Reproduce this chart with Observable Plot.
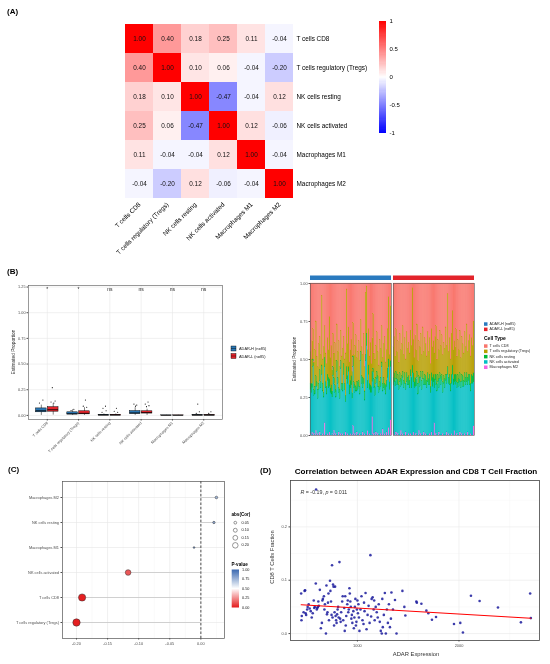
<!DOCTYPE html>
<html><head><meta charset="utf-8">
<script src="https://cdn.jsdelivr.net/npm/d3@7"></script>
<script src="https://cdn.jsdelivr.net/npm/@observablehq/plot@0.6"></script>
<style>
body{margin:0;background:#fff;}
#root{position:relative;width:550px;height:664px;overflow:hidden;background:#fff;}
#root svg{will-change:transform;-webkit-font-smoothing:antialiased;}
</style></head><body><div id="root"></div>
<script>
// ================= DATA =================
// Panel A: correlation matrix
const cellTypes = ["T cells CD8","T cells regulatory (Tregs)","NK cells resting","NK cells activated","Macrophages M1","Macrophages M2"];
const corrCD8    = [1.00,0.40,0.18,0.25,0.11,-0.04];
const corrTregs  = [0.40,1.00,0.10,0.06,-0.04,-0.20];
const corrNKrest = [0.18,0.10,1.00,-0.47,-0.04,0.12];
const corrNKact  = [0.25,0.06,-0.47,1.00,0.12,-0.06];
const corrM1     = [0.11,-0.04,-0.04,0.12,1.00,-0.04];
const corrM2     = [-0.04,-0.20,0.12,-0.06,-0.04,1.00];
const corrLegendTicks = [-1,-0.5,0,0.5,1];

// Panel B left: box plot summaries (ADAR-H, ADAR-L)
const groupNames = ["ADAR-H (n=85)","ADAR-L (n=85)"];
const boxQ1H  = [0.030,0.008,0.000,0.014,0.000,0.000];
const boxMedH = [0.045,0.016,0.002,0.024,0.000,0.001];
const boxQ3H  = [0.068,0.030,0.006,0.042,0.001,0.004];
const boxLoH  = [0.000,0.000,0.000,0.000,0.000,0.000];
const boxHiH  = [0.100,0.055,0.014,0.075,0.002,0.010];
const boxQ1L  = [0.036,0.010,0.000,0.018,0.000,0.000];
const boxMedL = [0.055,0.020,0.002,0.027,0.000,0.001];
const boxQ3L  = [0.080,0.040,0.006,0.040,0.001,0.004];
const boxLoL  = [0.003,0.000,0.000,0.000,0.000,0.000];
const boxHiL  = [0.115,0.075,0.014,0.060,0.002,0.010];
const outCat = [1,1,1,1,1,1,2,2,2,2,2,3,3,3,3,3,3,3,4,4,4,4,4,4,4,6,6,6,6,6];
const outGrp = [0,0,1,1,1,1,0,0,1,1,1,0,0,0,0,1,1,1,0,0,0,1,1,1,1,0,0,0,1,1];
const outDx  = [0.05,-0.06,-0.03,0.06,-0.07,0.02,0.04,-0.05,0.03,-0.04,0.07,0.05,-0.03,0.07,-0.06,0.02,-0.05,0.06,-0.04,0.05,0.01,0.03,-0.06,0.06,-0.02,0.0,0.05,-0.05,0.04,-0.03];
const outVal = [0.150,0.120,0.270,0.140,0.130,0.120,0.060,0.048,0.150,0.090,0.080,0.090,0.070,0.045,0.030,0.070,0.040,0.030,0.110,0.100,0.090,0.130,0.110,0.095,0.085,0.110,0.035,0.020,0.035,0.020];
const sigLabels = ["*","*","ns","ns","ns","ns"];

// Panel B right: per-sample composition (%), 85 samples per group
const stackTypes  = ["T cells CD8","T cells regulatory (Tregs)","NK cells resting","NK cells activated","Macrophages M2"];
const stackColors = ["#F8766D","#B79F00","#00BA38","#00BFC4","#F564E3"];
const cd8H = [45,50,38,30,52,44,25,48,55,40,35,47,8,50,42,28,46,
              53,36,44,22,49,41,57,33,46,39,51,27,45,38,55,31,48,
              43,35,50,46,4,40,29,52,44,37,58,26,47,41,34,49,45,
              38,51,24,42,47,33,55,6,2,44,30,48,39,53,36,20,46,
              50,41,32,45,54,37,43,28,49,40,35,52,44,30,9,47,15];
const tregsH = [21,16,28,20,18,24,36,17,15,26,22,18,46,16,30,21,19,
                15,24,18,41,20,26,14,22,16,28,19,24,17,31,15,20,18,
                23,18,16,28,51,21,26,15,20,24,14,22,18,26,34,16,20,
                26,17,21,19,15,30,16,41,31,20,24,18,28,15,22,36,17,
                18,21,26,16,14,28,19,24,17,22,31,15,20,26,41,18,36];
const nkRestH = [4,6,3,5,4,5,7,3,6,4,7,4,6,5,3,6,4,
                 5,4,7,5,3,6,4,6,4,5,5,7,4,3,6,5,4,
                 5,7,4,4,8,5,3,6,5,6,4,7,4,5,3,6,5,
                 4,5,6,5,7,3,6,4,8,5,6,4,5,4,7,3,6,
                 6,4,5,7,4,5,6,3,5,7,4,6,4,6,5,5,4];
const m2H = [1,0,2,0,1,0,3,0,1,0,2,0,0,1,0,8,0,
             0,1,0,2,0,0,1,0,3,0,1,0,0,2,0,1,0,
             1,0,0,2,0,1,0,0,1,0,0,6,0,1,0,2,0,
             0,1,0,0,2,0,1,0,0,3,0,1,0,0,12,0,1,
             0,2,0,1,0,0,1,0,4,0,1,0,2,0,5,0,10];
const cd8L = [42,35,48,30,45,38,52,33,44,40,28,47,36,50,32,43,39,
              46,31,41,3,37,49,34,44,27,51,38,42,33,47,29,45,36,
              40,48,32,45,36,53,30,42,38,46,35,28,50,37,44,31,41,
              34,47,39,43,29,41,7,45,36,50,33,18,44,38,42,30,48,
              37,44,31,49,35,40,46,32,42,27,45,38,34,48,36,41,25];
const tregsL = [20,24,16,28,18,22,15,26,19,21,30,17,23,16,27,19,22,
                18,26,21,51,22,16,28,19,31,15,23,20,25,17,29,18,24,
                21,16,27,18,24,15,29,20,22,17,25,32,16,23,19,28,20,
                26,18,22,20,31,19,48,17,24,16,27,36,19,22,18,30,17,
                23,19,28,16,25,21,18,27,20,32,17,22,26,18,24,20,34];
const nkRestL = [5,6,4,5,4,7,3,6,5,6,4,5,7,4,6,5,6,
                 5,4,7,5,6,4,6,5,4,7,5,6,4,6,5,4,7,
                 6,5,6,4,7,4,5,6,5,6,4,7,5,5,6,4,6,
                 4,7,5,6,4,6,5,4,7,5,6,6,4,5,7,5,4,
                 6,5,6,4,5,7,4,6,5,6,5,4,7,5,6,5,6];
const m2L = [1,0,0,2,0,1,0,0,3,0,1,0,0,2,0,0,1,
             0,1,0,0,2,0,0,1,0,0,3,0,1,0,0,2,0,
             1,0,0,0,1,0,2,0,0,8,0,1,0,0,2,0,0,
             0,1,0,0,0,2,0,1,0,0,1,0,0,3,0,0,1,
             0,0,2,0,1,0,0,1,0,0,2,0,0,1,0,0,6];

// Panel C: lollipop
const lolliCells = ["Macrophages M2","NK cells resting","Macrophages M1","NK cells activated","T cells CD8","T cells regulatory (Tregs)"];
const lolliCor = [0.025,0.021,-0.011,-0.117,-0.191,-0.200];
const lolliP   = [0.75,0.79,0.89,0.13,0.011,0.009];
const sizeLegendVals = [0.05,0.10,0.15,0.20];
const pLegendTicks = [0,0.25,0.5,0.75,1];

// Panel D: scatter
const adarExpr = [446,449,452,470,480,485,490,495,505,510,520,530,540,550,560,570,575,580,590,593,600,605,610,615,620,630,640,650,655,660,670,675,680,690,695,700,
  705,710,715,720,730,734,740,745,750,755,760,765,770,775,780,785,790,795,800,805,810,815,823,830,835,840,850,855,860,870,875,880,885,890,900,905,910,915,921,925,930,935,940,945,950,960,965,970,975,980,985,990,995,
  1000,1005,1010,1015,1020,1030,1040,1050,1060,1065,1070,1080,1090,1100,1110,1120,1128,1135,1140,1150,1160,1165,1170,1180,1190,1200,1210,1220,1230,1240,1245,1250,1260,1270,1280,1290,1300,1310,1320,1330,1335,1350,1370,1385,
  1443,1462,1472,1580,1585,1630,1679,1698,1734,1774,1951,2013,2039,2118,2203,2384,2610,2701,2708];
const cd8Fraction = [0.075,0.025,0.033,0.040,0.080,0.081,0.038,0.035,0.045,0.050,0.055,0.047,0.042,0.030,0.038,0.062,0.048,0.050,0.094,0.270,0.045,0.048,0.050,0.060,0.052,0.082,0.010,0.020,0.062,0.065,0.070,0.045,0.055,0.000,0.090,0.036,
  0.040,0.058,0.075,0.025,0.099,0.080,0.060,0.035,0.128,0.030,0.092,0.088,0.015,0.040,0.088,0.033,0.025,0.020,0.036,0.045,0.050,0.030,0.134,0.028,0.022,0.040,0.060,0.070,0.025,0.048,0.005,0.070,0.015,0.033,0.055,0.062,0.040,0.045,0.085,0.075,0.060,0.050,0.028,0.035,0.020,0.042,0.010,0.030,0.050,0.065,0.015,0.022,0.045,
  0.062,0.038,0.055,0.030,0.005,0.045,0.070,0.025,0.018,0.058,0.042,0.076,0.008,0.035,0.052,0.020,0.147,0.032,0.065,0.068,0.045,0.062,0.025,0.050,0.040,0.030,0.055,0.022,0.005,0.000,0.065,0.012,0.035,0.076,0.000,0.045,0.020,0.055,0.012,0.028,0.077,0.045,0.063,0.000,
  0.080,0.050,0.034,0.060,0.058,0.056,0.043,0.038,0.026,0.031,0.018,0.020,0.002,0.071,0.061,0.049,0.021,0.075,0.029];

// ================= HELPERS =================
const root = document.getElementById("root");
function place(el, left, top){ el.style.position="absolute"; el.style.left=left+"px"; el.style.top=top+"px"; root.appendChild(el); return el; }
const FONT = "Liberation Sans, Arial, Helvetica, sans-serif";
const baseStyle = {background:"transparent", fontFamily:FONT, overflow:"visible"};
const bwr = d3.piecewise(d3.interpolateRgb, ["#0000ff","#ffffff","#ff0000"]);
const pInterp = d3.piecewise(d3.interpolateRgb, ["#E41A1C","#FFFFFF","#3A68B0"]);

// ================= PANEL A =================
const corrRows = [corrCD8,corrTregs,corrNKrest,corrNKact,corrM1,corrM2];
const heatCells = [];
cellTypes.forEach((r,i)=>cellTypes.forEach((c,j)=>heatCells.push({row:r,col:c,v:corrRows[i][j]})));
place(Plot.plot({
  width:550, height:268, marginLeft:124, marginRight:257, marginTop:21, marginBottom:68,
  style:{...baseStyle, fontSize:"6.4px", color:"#000"},
  x:{domain:cellTypes, padding:0, label:null, tickSize:0, tickRotate:-45, tickPadding:3},
  y:{domain:cellTypes, padding:0, label:null, tickSize:0, axis:"right", tickPadding:3},
  color:{type:"linear", domain:[-1,1], interpolate:bwr},
  marks:[
    Plot.cell(heatCells,{x:"col",y:"row",fill:"v",inset:0}),
    Plot.text(heatCells,{x:"col",y:"row",text:d=>d.v.toFixed(2),fill:"#111",fontSize:6.4})
  ]
}),0,0);
const rampSteps = d3.range(-1,1,0.02);
place(Plot.plot({
  width:32, height:140, marginLeft:0, marginRight:25, marginTop:21, marginBottom:7,
  style:{...baseStyle, fontSize:"6px", color:"#000"},
  x:{axis:null, domain:[0,1]},
  y:{domain:[-1,1], axis:"right", ticks:corrLegendTicks, tickFormat:d=>String(d), tickSize:0, tickPadding:3, label:null},
  color:{type:"linear", domain:[-1,1], interpolate:bwr},
  marks:[Plot.rect(rampSteps,{x1:0,x2:1,y1:d=>d,y2:d=>d+0.021,fill:d=>d+0.01,shapeRendering:"crispEdges"})]
}),379,0);

// ================= PANEL B left =================
const boxRows = [];
cellTypes.forEach((c,i)=>{
  boxRows.push({cat:i+1,g:0,q1:boxQ1H[i],med:boxMedH[i],q3:boxQ3H[i],lo:boxLoH[i],hi:boxHiH[i]});
  boxRows.push({cat:i+1,g:1,q1:boxQ1L[i],med:boxMedL[i],q3:boxQ3L[i],lo:boxLoL[i],hi:boxHiL[i]});
});
const outRows = outCat.map((c,i)=>({cat:c,g:outGrp[i],dx:outDx[i],v:outVal[i]}));
const OFF=0.19, HW=0.17;
const cx = d=>d.cat+(d.g?OFF:-OFF);
place(Plot.plot({
  width:280, height:185, marginLeft:28, marginRight:58, marginTop:10, marginBottom:41,
  style:{...baseStyle, fontSize:"3.8px", color:"#4d4d4d"},
  x:{domain:[0.4,6.6], ticks:[1,2,3,4,5,6], tickFormat:i=>cellTypes[i-1], tickRotate:-45, tickSize:1.5, tickPadding:1.5, label:null},
  y:{domain:[-0.04,1.265], ticks:[0,0.25,0.5,0.75,1,1.25], tickFormat:d=>d.toFixed(2), tickSize:1.5, tickPadding:1.5, label:null},
  color:{type:"identity"},
  marks:[
    Plot.gridY({ticks:[0,0.25,0.5,0.75,1,1.25], stroke:"#e6e6e6", strokeOpacity:1, strokeWidth:0.6}),
    Plot.gridX({ticks:[1,2,3,4,5,6], stroke:"#e6e6e6", strokeOpacity:1, strokeWidth:0.6}),
    Plot.ruleX(boxRows,{x:cx, y1:"lo", y2:"hi", stroke:"#000", strokeWidth:0.5}),
    Plot.rect(boxRows,{x1:d=>cx(d)-HW, x2:d=>cx(d)+HW, y1:"q1", y2:"q3", fill:d=>d.g?"#E3242B":"#2A77B4", stroke:"#000", strokeWidth:0.45}),
    Plot.ruleY(boxRows,{y:"med", x1:d=>cx(d)-HW, x2:d=>cx(d)+HW, stroke:"#000", strokeWidth:0.8}),
    Plot.dot(outRows,{x:d=>cx(d)+d.dx, y:"v", r:0.55, fill:"#000", stroke:null}),
    Plot.text(sigLabels,{x:(d,i)=>i+1, y:1.225, text:d=>d, fill:"#222", fontSize:5}),
    Plot.frame({stroke:"#555", strokeWidth:0.6})
  ]
}),0,275);

// ================= PANEL B right =================
const barRows = [];
function addGroup(g, cd8, tregs, nkr, m2){
  for (let i=0;i<cd8.length;i++){
    const act = 100-cd8[i]-tregs[i]-nkr[i]-m2[i];
    barRows.push({grp:g,idx:i,type:"Macrophages M2",val:m2[i]});
    barRows.push({grp:g,idx:i,type:"NK cells activated",val:act});
    barRows.push({grp:g,idx:i,type:"NK cells resting",val:nkr[i]});
    barRows.push({grp:g,idx:i,type:"T cells regulatory (Tregs)",val:tregs[i]});
    barRows.push({grp:g,idx:i,type:"T cells CD8",val:cd8[i]});
  }
}
addGroup("H",cd8H,tregsH,nkRestH,m2H);
addGroup("L",cd8L,tregsL,nkRestL,m2L);
place(Plot.plot({
  width:270, height:175, marginLeft:29, marginRight:75, marginTop:13, marginBottom:10,
  style:{...baseStyle, fontSize:"3.8px", color:"#4d4d4d"},
  fx:{domain:["H","L"], padding:0.02, axis:null, label:null},
  x:{domain:d3.range(85), axis:null, padding:0},
  y:{domain:[0,1], ticks:[0,0.25,0.5,0.75,1], tickFormat:d=>d.toFixed(2), tickSize:1.5, tickPadding:1.5, label:null},
  color:{domain:stackTypes, range:stackColors},
  marks:[
    Plot.barY(barRows,{fx:"grp", x:"idx", y:"val", fill:"type", stroke:"type", strokeWidth:0.2, offset:"normalize", inset:0}),
    Plot.frame({stroke:"#555", strokeWidth:0.6}),
    Plot.rect(["H"],{fx:d=>d, y1:1, y2:1, insetTop:-7.5, insetBottom:3, fill:"#2A7ABF"}),
    Plot.rect(["L"],{fx:d=>d, y1:1, y2:1, insetTop:-7.5, insetBottom:3, fill:"#E3242B"})
  ]
}),280,270);

// ================= PANEL C =================
const lolliRows = lolliCells.map((c,i)=>({cell:c, cor:lolliCor[i], abs:Math.abs(lolliCor[i]), p:lolliP[i]}));
const rScaleC = {type:"sqrt", domain:[0,0.2], range:[0,3.7]};
place(Plot.plot({
  width:280, height:194, marginLeft:62, marginRight:56, marginTop:11, marginBottom:26,
  style:{...baseStyle, fontSize:"3.9px", color:"#4d4d4d"},
  x:{domain:[-0.2225,0.038], ticks:[-0.2,-0.15,-0.1,-0.05,0], tickFormat:d=>d.toFixed(2), tickSize:1.5, tickPadding:2, label:null},
  y:{type:"point", domain:lolliCells, padding:0.6, tickSize:1.5, tickPadding:2, label:null},
  r:rScaleC,
  color:{type:"linear", domain:[0,1], interpolate:pInterp},
  marks:[
    Plot.gridX({ticks:[-0.175,-0.125,-0.075,-0.025,0.025], stroke:"#f3f3f3", strokeOpacity:1, strokeWidth:0.5}),
    Plot.gridX({ticks:[-0.2,-0.15,-0.1,-0.05,0], stroke:"#e6e6e6", strokeOpacity:1, strokeWidth:0.6}),
    Plot.gridY(lolliCells,{y:d=>d, stroke:"#e6e6e6", strokeOpacity:1, strokeWidth:0.6}),
    Plot.ruleY(lolliRows,{y:"cell", x1:0, x2:"cor", stroke:"#c8c8c8", strokeWidth:0.8}),
    Plot.ruleX([0],{stroke:"#222", strokeDasharray:"2.5,1.8", strokeWidth:0.8}),
    Plot.dot(lolliRows,{x:"cor", y:"cell", r:"abs", fill:"p", stroke:"#333", strokeWidth:0.5}),
    Plot.frame({stroke:"#555", strokeWidth:0.7})
  ]
}),0,470);

// ================= PANEL D =================
const dRows = adarExpr.map((x,i)=>({x, y:cd8Fraction[i]}));
place(Plot.plot({
  width:270, height:194, marginLeft:10, marginRight:11, marginTop:10, marginBottom:24,
  style:{...baseStyle, fontSize:"3.9px", color:"#4d4d4d"},
  x:{domain:[341,2793], ticks:[1000,2000], tickFormat:d=>String(d), tickSize:1.5, tickPadding:2, label:null},
  y:{domain:[-0.013,0.287], ticks:[0,0.1,0.2], tickFormat:d=>d.toFixed(1), tickSize:1.5, tickPadding:2, label:null},
  marks:[
    Plot.gridX({ticks:[500,1500,2500], stroke:"#f4f4f4", strokeOpacity:1, strokeWidth:0.5}),
    Plot.gridY({ticks:[0.05,0.15,0.25], stroke:"#f4f4f4", strokeOpacity:1, strokeWidth:0.5}),
    Plot.gridX({ticks:[1000,2000], stroke:"#e8e8e8", strokeOpacity:1, strokeWidth:0.6}),
    Plot.gridY({ticks:[0,0.1,0.2], stroke:"#e8e8e8", strokeOpacity:1, strokeWidth:0.6}),
    Plot.dot(dRows,{x:"x", y:"y", r:1.3, fill:"#1A1A9C", fillOpacity:0.85, stroke:null}),
    Plot.linearRegressionY(dRows,{x:"x", y:"y", stroke:"#FF0000", strokeWidth:1.1, ci:0}),
    Plot.frame({stroke:"#444", strokeWidth:0.8})
  ]
}),280,470);

// ================= OVERLAY: titles, axis titles, legends =================
const ov = d3.create("svg").attr("width",550).attr("height",664)
  .style("position","absolute").style("left","0px").style("top","0px")
  .style("font-family",FONT).style("pointer-events","none");
function txt(x,y,s,size,opt={}){
  const t = ov.append("text").attr("x",x).attr("y",y).attr("font-size",size)
    .attr("fill",opt.fill||"#000").attr("text-anchor",opt.anchor||"start")
    .attr("font-weight",opt.bold?"bold":"normal");
  if (opt.rotate) t.attr("transform",`rotate(${opt.rotate},${x},${y})`);
  if (opt.baseline) t.attr("dominant-baseline",opt.baseline);
  t.text(s); return t;
}
// panel labels
txt(7,14,"(A)",8,{bold:true});
txt(7,274,"(B)",8,{bold:true});
txt(8,472,"(C)",8,{bold:true});
txt(260,473,"(D)",8,{bold:true});
// B left
txt(14.5,352,"Estimated Proportion",4.8,{anchor:"middle",rotate:-90,fill:"#333"});
groupNames.forEach((g,i)=>{
  ov.append("rect").attr("x",231).attr("y",346+i*7.5).attr("width",5).attr("height",5)
    .attr("fill",i?"#E3242B":"#2A77B4").attr("stroke","#000").attr("stroke-width",0.4);
  ov.append("line").attr("x1",231).attr("x2",236).attr("y1",348.5+i*7.5).attr("y2",348.5+i*7.5).attr("stroke","#000").attr("stroke-width",0.4);
  txt(239,348.5+i*7.5,g,3.9,{baseline:"central",fill:"#222"});
});
// B right
txt(295.5,359,"Estimated Proportion",4.8,{anchor:"middle",rotate:-90,fill:"#333"});
groupNames.forEach((g,i)=>{
  ov.append("rect").attr("x",484).attr("y",322.3+i*5.3).attr("width",3.5).attr("height",3.5).attr("fill",i?"#E3242B":"#2A7ABF");
  txt(489.5,324+i*5.3,g,3.7,{baseline:"central",fill:"#222"});
});
txt(484,338.3,"Cell Type",5,{bold:true,baseline:"central"});
stackTypes.forEach((c,i)=>{
  ov.append("rect").attr("x",484).attr("y",344.3+i*5.3).attr("width",3.5).attr("height",3.5).attr("fill",stackColors[i]);
  txt(489.5,346+i*5.3,c,3.7,{baseline:"central",fill:"#222"});
});
// C legends
const rC = d3.scaleSqrt().domain(rScaleC.domain).range(rScaleC.range);
txt(231.5,514.5,"abs(Cor)",4.6,{bold:true,baseline:"central"});
sizeLegendVals.forEach((v,i)=>{
  const cy = 522.7+i*7.55;
  ov.append("circle").attr("cx",235.3).attr("cy",cy).attr("r",rC(v)*0.75).attr("fill","#fff").attr("stroke","#333").attr("stroke-width",0.5);
  txt(241.5,cy,v.toFixed(2),3.8,{baseline:"central",fill:"#222"});
});
txt(231.5,564.5,"P-value",4.6,{bold:true,baseline:"central"});
const grad = ov.append("defs").append("linearGradient").attr("id","pgrad").attr("x1",0).attr("x2",0).attr("y1",1).attr("y2",0);
d3.range(0,1.0001,0.1).forEach(t=>grad.append("stop").attr("offset",t).attr("stop-color",pInterp(t)));
ov.append("rect").attr("x",231.7).attr("y",569.5).attr("width",7.3).attr("height",38).attr("fill","url(#pgrad)");
pLegendTicks.forEach(v=>txt(242,607.5-v*38,v.toFixed(2),3.8,{baseline:"central",fill:"#222"}));
// D
txt(416,474.3,"Correlation between ADAR Expression and CD8 T Cell Fraction",8.1,{bold:true,anchor:"middle"});
const rt = ov.append("text").attr("x",300.5).attr("y",493.5).attr("font-size",5.3).attr("fill","#333");
rt.append("tspan").attr("font-style","italic").text("R");
rt.append("tspan").text(" = -0.19, ");
rt.append("tspan").attr("font-style","italic").text("p");
rt.append("tspan").text(" = 0.011");
txt(274,557,"CD8 T Cells Fraction",5.8,{anchor:"middle",rotate:-90,fill:"#333"});
txt(416,655.5,"ADAR Expression",5.8,{anchor:"middle",fill:"#333"});
root.appendChild(ov.node());
</script></body></html>
